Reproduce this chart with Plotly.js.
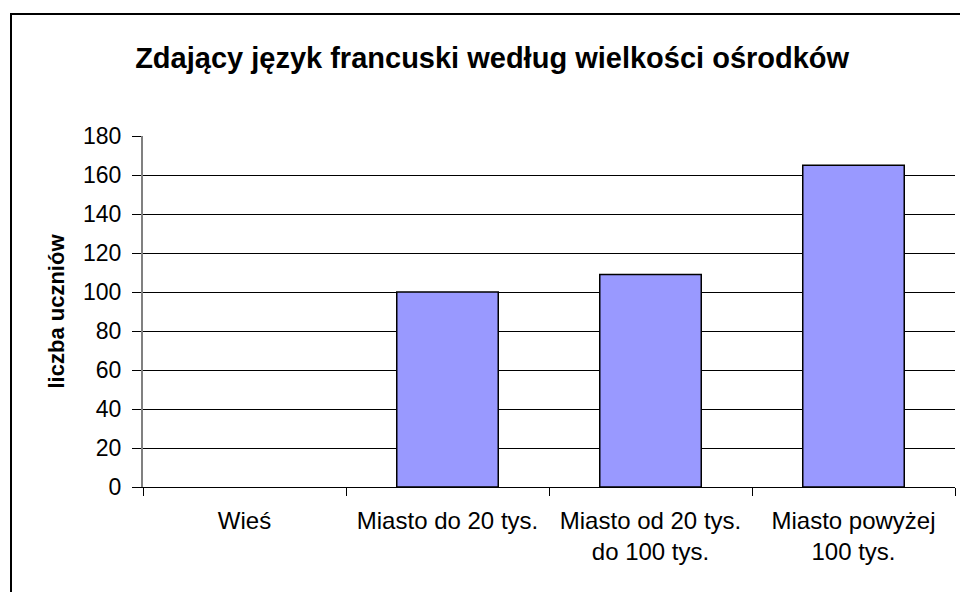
<!DOCTYPE html>
<html>
<head>
<meta charset="utf-8">
<script src="https://cdn.plot.ly/plotly-3.0.1.min.js"></script>
<style>
  html, body { margin: 0; padding: 0; background: #fff; overflow: hidden; }
  #frame { position: absolute; left: 10px; top: 13px; width: 1000px; height: 700px; border: 2px solid #000; box-sizing: border-box; }
  #chart { position: absolute; left: 0; top: 0; width: 960px; height: 592px; }
</style>
</head>
<body>
<div id="frame"></div>
<div id="chart"></div>
<script>
const categories = ["Wieś", "Miasto do 20 tys.", "Miasto od 20 tys.<br>do 100 tys.", "Miasto powyżej<br>100 tys."];
const values = [0, 100, 109, 165];
const yTicks = [0, 20, 40, 60, 80, 100, 120, 140, 160, 180];
const chartTitle = "Zdający język francuski według wielkości ośrodków";
const yTitle = "liczba uczniów";

const font = "Liberation Sans, Arial, sans-serif";

Plotly.newPlot("chart", [{
  type: "bar",
  x: categories,
  y: values,
  width: 0.5,
  marker: { color: "#9999FF", line: { color: "#000", width: values.map(v => v > 0 ? 1.5 : 0) } },
  hoverinfo: "x+y"
}], {
  width: 960, height: 592,
  margin: { l: 143, r: 5, t: 136, b: 105 },
  paper_bgcolor: "rgba(0,0,0,0)",
  plot_bgcolor: "rgba(0,0,0,0)",
  showlegend: false,
  title: {
    text: "<b>" + chartTitle + "</b>",
    font: { family: font, size: 29, color: "#000" },
    x: 0.43, xanchor: "center", xref: "paper",
    y: 0.903, yanchor: "middle", yref: "container"
  },
  xaxis: {
    type: "category",
    showline: true, linecolor: "#000", linewidth: 1,
    ticks: "outside", tickson: "boundaries", ticklen: 8, tickcolor: "#000", tickwidth: 1,
    showgrid: false,
    tickfont: { family: font, size: 24, color: "#000" },
    ticklabelstandoff: 12
  },
  yaxis: {
    range: [0, 180],
    tickvals: yTicks,
    ticktext: yTicks.map(String),
    showline: true, linecolor: "#808080", linewidth: 2,
    ticks: "outside", ticklen: 9, tickcolor: "#000", tickwidth: 1,
    showgrid: true, gridcolor: "#000", gridwidth: 1,
    zeroline: false,
    tickfont: { family: font, size: 23, color: "#000" },
    ticklabelstandoff: 6,
    title: {
      text: "<b>" + yTitle + "</b>",
      font: { family: font, size: 22, color: "#000" },
      standoff: 12
    }
  }
}, { displayModeBar: false, staticPlot: true });
</script>
</body>
</html>
